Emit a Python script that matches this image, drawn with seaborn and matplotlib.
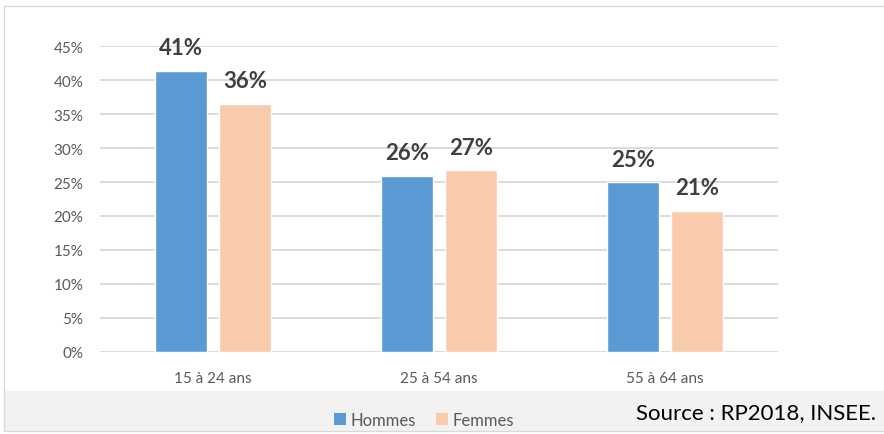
import pandas as pd
import matplotlib
matplotlib.use("Agg")
import matplotlib.pyplot as plt
from matplotlib.patches import Rectangle, Patch
import seaborn as sns

# values (percent)
age_groups = ["15 à 24 ans", "25 à 54 ans", "55 à 64 ans"]
hommes = [41.4, 25.9, 25.0]
femmes = [36.5, 26.7, 20.8]
series = ["Hommes", "Femmes"]
y_ticks = [0, 5, 10, 15, 20, 25, 30, 35, 40, 45]
source_text = "Source : RP2018, INSEE."

BLUE = "#5B9BD5"
PEACH = "#F8CBAD"
GRID = "#D9D9D9"
TICK_COLOR = "#595959"
LABEL_COLOR = "#404040"

sns.set_style("white")
plt.rcParams["font.family"] = ["Lato", "DejaVu Sans"]

df = pd.DataFrame({
    "age": age_groups * 2,
    "sexe": [series[0]] * len(age_groups) + [series[1]] * len(age_groups),
    "taux": hommes + femmes,
})

fig = plt.figure(figsize=(8.84, 4.35), dpi=100)

# frame and grey footer band
fig.patches.append(Rectangle((4 / 884, 3 / 435), 1.0, 40 / 435, transform=fig.transFigure,
                             facecolor="#F2F2F2", edgecolor="none", zorder=0))
fig.patches.append(Rectangle((4 / 884, 3 / 435), 1.0, 425 / 435, transform=fig.transFigure,
                             facecolor="none", edgecolor=GRID, linewidth=1, zorder=1))

ax = fig.add_axes([100 / 884, 1 - 352.7 / 435, 678 / 884, 305.4 / 435])
sns.barplot(data=df, x="age", y="taux", hue="sexe", palette=[BLUE, PEACH],
            width=0.568, gap=0.2, saturation=1, legend=False, ax=ax, zorder=3)

for cont in ax.containers:
    ax.bar_label(cont, labels=[f"{round(v)}%" for v in cont.datavalues], padding=9,
                 fontsize=16, fontweight="bold", color=LABEL_COLOR)

ax.set_xlim(-0.5, 2.5)
ax.set_ylim(0, 45)
ax.set_yticks(y_ticks)
ax.set_yticklabels([f"{t}%" for t in y_ticks])
ax.yaxis.grid(True, color=GRID, linewidth=1.3, zorder=0)
ax.set_axisbelow(True)
for s in ax.spines.values():
    s.set_visible(False)
ax.tick_params(axis="both", length=0, labelsize=11, colors=TICK_COLOR)
ax.tick_params(axis="y", pad=12)
ax.tick_params(axis="x", pad=14)
ax.set_xlabel("")
ax.set_ylabel("")
ax.patch.set_alpha(0)

handles = [Patch(facecolor=BLUE, edgecolor="none"), Patch(facecolor=PEACH, edgecolor="none")]
fig.legend(handles, series, loc="center", bbox_to_anchor=(0.48, 0.032), ncol=2,
           frameon=False, fontsize=12, handlelength=0.7, handleheight=0.7,
           handletextpad=0.3, columnspacing=1.2, labelcolor=TICK_COLOR)

fig.text(0.991, 1 - 413 / 435, source_text, ha="right", va="center", fontsize=16, color="black")

fig.savefig("out.png", dpi=100)
